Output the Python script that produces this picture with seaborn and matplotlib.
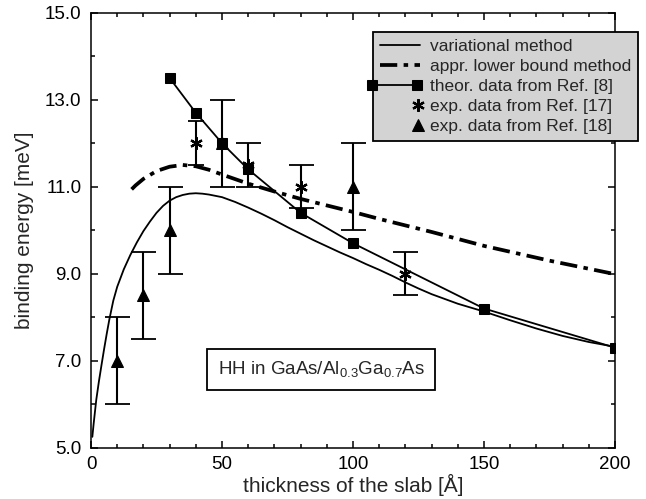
import numpy as np
import pandas as pd
import matplotlib
matplotlib.use("Agg")
import matplotlib.pyplot as plt
import seaborn as sns
from matplotlib.legend_handler import HandlerLine2D
from matplotlib.ticker import MultipleLocator, FormatStrFormatter

# ---------------- data ----------------
var_x = [0.5, 1, 2, 3, 4, 5, 6, 7, 8.5, 10, 12.5, 15, 17.5, 20, 22.5, 25, 27.5, 30, 32.5,
         35, 37.5, 40, 42.5, 45, 50, 55, 60, 65, 70, 75, 80, 85, 90, 95, 100, 105, 110,
         115, 120, 125, 130, 135, 140, 150, 160, 170, 180, 190, 200]
var_y = [5.25, 5.55, 6.1, 6.52, 6.9, 7.27, 7.62, 7.95, 8.38, 8.7, 9.1, 9.43, 9.72, 9.98,
         10.2, 10.4, 10.56, 10.68, 10.76, 10.81, 10.84, 10.85, 10.84, 10.82, 10.76, 10.65,
         10.52, 10.38, 10.23, 10.07, 9.92, 9.77, 9.63, 9.49, 9.36, 9.22, 9.09, 8.95, 8.8,
         8.66, 8.53, 8.42, 8.31, 8.13, 7.93, 7.74, 7.57, 7.43, 7.32]

lb_x = [15.5, 17, 20, 25, 30, 35, 40, 45, 50, 60, 70, 80, 100, 110, 130, 150, 175, 200]
lb_y = [10.94, 11.03, 11.18, 11.36, 11.46, 11.5, 11.47, 11.39, 11.28, 11.07, 10.89, 10.72,
        10.42, 10.26, 9.96, 9.64, 9.3, 8.99]

th_x = [30, 40, 50, 60, 80, 100, 150, 200]
th_y = [13.5, 12.7, 12.0, 11.4, 10.4, 9.7, 8.2, 7.3]

e17_x = [40, 60, 80, 120]
e17_y = [12.0, 11.5, 11.0, 9.0]
e17_err = [0.5, 0.5, 0.5, 0.5]

e18_x = [10, 20, 30, 50, 100]
e18_y = [7.0, 8.5, 10.0, 12.0, 11.0]
e18_err = [1.0, 1.0, 1.0, 1.0, 1.0]

labels = ["variational method", "appr. lower bound method", "theor. data from Ref. [8]",
          "exp. data from Ref. [17]", "exp. data from Ref. [18]"]

xticks = [0, 50, 100, 150, 200]
yticks = [5.0, 7.0, 9.0, 11.0, 13.0, 15.0]

# ---------------- style ----------------
sns.set_theme(style="ticks")
plt.rcParams["font.family"] = ["Liberation Sans", "DejaVu Sans"]
plt.rcParams["mathtext.fontset"] = "custom"
plt.rcParams["mathtext.rm"] = "Liberation Sans"
plt.rcParams["axes.linewidth"] = 1.1

fig = plt.figure(figsize=(6.46, 4.99), dpi=100)
ax = fig.add_axes([0.1409, 0.1028, 0.8111, 0.8717])

df_var = pd.DataFrame({"x": var_x, "y": var_y})
df_lb = pd.DataFrame({"x": lb_x, "y": lb_y})
df_th = pd.DataFrame({"x": th_x, "y": th_y})
df_17 = pd.DataFrame({"x": e17_x, "y": e17_y, "err": e17_err})
df_18 = pd.DataFrame({"x": e18_x, "y": e18_y, "err": e18_err})

sns.lineplot(data=df_var, x="x", y="y", ax=ax, color="black", lw=1.3,
             label=labels[0], sort=False, errorbar=None)
sns.lineplot(data=df_lb, x="x", y="y", ax=ax, color="black", lw=2.7,
             label=labels[1], sort=False, errorbar=None)
ax.get_lines()[-1].set_dashes([4.6, 1.7, 1.2, 1.7])

# error bars
ax.errorbar(df_18["x"], df_18["y"], yerr=df_18["err"], fmt="none", ecolor="black",
            elinewidth=1.5, capsize=9, capthick=1.3, zorder=2)
ax.errorbar(df_17["x"].iloc[1:], df_17["y"].iloc[1:], yerr=df_17["err"].iloc[1:],
            fmt="none", ecolor="black", elinewidth=1.5, capsize=9, capthick=1.3, zorder=2)
ax.errorbar(df_17["x"].iloc[:1], df_17["y"].iloc[:1], yerr=df_17["err"].iloc[:1],
            fmt="none", ecolor="black", elinewidth=1.5, capsize=6, capthick=1.3, zorder=2)

sns.lineplot(data=df_18, x="x", y="y", ax=ax, color="black", linestyle="none",
             marker="^", markersize=8.5, markerfacecolor="black", markeredgecolor="black",
             label=labels[4], errorbar=None, zorder=3)
sns.lineplot(data=df_17, x="x", y="y", ax=ax, color="black", linestyle="none",
             marker=(6, 2, 0), markersize=9, markeredgewidth=1.6,
             markerfacecolor="black", markeredgecolor="black",
             label=labels[3], errorbar=None, zorder=3)
sns.lineplot(data=df_th, x="x", y="y", ax=ax, color="black", lw=1.3, marker="s",
             markersize=6.8, markerfacecolor="black", markeredgecolor="black",
             label=labels[2], errorbar=None, zorder=4)

# axes
ax.set_xlim(0, 200)
ax.set_ylim(5, 15)
ax.set_xticks(xticks)
ax.set_yticks(yticks)
ax.xaxis.set_minor_locator(MultipleLocator(10))
ax.yaxis.set_minor_locator(MultipleLocator(1))
ax.yaxis.set_major_formatter(FormatStrFormatter("%.1f"))
ax.tick_params(which="both", direction="in", top=True, right=True, width=1.1,
               colors="black", labelsize=13.5)
ax.tick_params(which="major", length=5)
ax.tick_params(which="minor", length=3)
ax.tick_params(axis="x", pad=6)
ax.tick_params(axis="y", pad=7)
for s in ax.spines.values():
    s.set_color("black")
ax.set_xlabel("thickness of the slab [Å]", fontsize=15, labelpad=1)
ax.set_ylabel("binding energy [meV]", fontsize=15, labelpad=8)

ax.text(87.8, 6.79, r"HH in GaAs/Al$_\mathregular{0.3}$Ga$_\mathregular{0.7}$As",
        fontsize=13.5, ha="center", va="center",
        bbox=dict(boxstyle="square,pad=0.55", facecolor="white", edgecolor="black", lw=1.3))


class RightMarker(HandlerLine2D):
    # single marker drawn at the right end of the handle box
    def get_xdata(self, legend, xdescent, ydescent, width, height, fontsize):
        m = -xdescent + width - 0.1 * fontsize
        xd = np.array([m - 1.0, m + 1.0])
        return xd, np.array([m])


class WideEnds(HandlerLine2D):
    def get_xdata(self, legend, xdescent, ydescent, width, height, fontsize):
        xd = np.array([-xdescent - 0.45 * fontsize, -xdescent + width - 0.15 * fontsize])
        return xd, xd


handles, labs = ax.get_legend_handles_labels()
hmap = dict(zip(labs, handles))
order = [hmap[l] for l in labels]
hm = {order[2]: WideEnds(numpoints=2),
      order[3]: RightMarker(numpoints=1),
      order[4]: RightMarker(numpoints=1)}
leg = ax.legend(order, labels, loc="upper left", bbox_to_anchor=(0.538, 0.956),
                borderaxespad=0, fontsize=12.5, frameon=True, fancybox=False,
                framealpha=1, facecolor="#d3d3d3", edgecolor="black",
                handlelength=2.3, handletextpad=0.6, labelspacing=0.28,
                borderpad=0.4, handler_map=hm)
leg.get_frame().set_linewidth(1.3)
leg.set_zorder(10)

fig.savefig("out.png", dpi=100)
